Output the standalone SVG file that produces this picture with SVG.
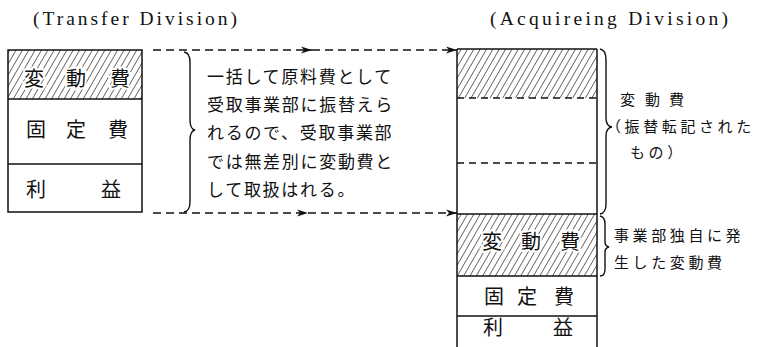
<svg xmlns="http://www.w3.org/2000/svg" width="765" height="347" viewBox="0 0 765 347">
<defs>
<style>
.box{fill:none;stroke:#111;stroke-width:1.5}
.ln{stroke:#111;stroke-width:1.5;fill:none}
.dl{stroke:#111;stroke-width:1.3;fill:none;stroke-dasharray:8 5}
.brace{stroke:#111;stroke-width:1.4;fill:none}
.title{font-family:"Liberation Serif",serif;font-size:19.5px;fill:#111}
.lab{font-family:"Noto Sans CJK JP",sans-serif;font-size:20px;fill:#111;text-anchor:middle}
.halo{stroke:#fff;stroke-width:4;paint-order:stroke}
.note{font-family:"Noto Sans CJK JP",sans-serif;font-size:17px;fill:#111;letter-spacing:1.7px}
.snote{font-family:"Noto Sans CJK JP",sans-serif;font-size:15px;fill:#111;letter-spacing:3.6px}
</style>
<pattern id="hatch" width="5.5" height="6" patternUnits="userSpaceOnUse" patternTransform="rotate(30)">
<line x1="0" y1="0" x2="0" y2="6" stroke="#111" stroke-width="1.2"/>
</pattern>
<marker id="arr" markerWidth="12" markerHeight="8" refX="11" refY="4" orient="auto" markerUnits="userSpaceOnUse">
<path d="M0,0.5 L11,4 L0,7.5 L3,4 Z" fill="#111"/>
</marker>
</defs>

<text class="title" x="33" y="25" textLength="204" lengthAdjust="spacing">(Transfer Division)</text>
<text class="title" x="490" y="25" textLength="238" lengthAdjust="spacing">(Acquireing Division)</text>

<g id="transfer-box">
<rect x="8" y="50" width="134" height="49" fill="url(#hatch)"/>
<rect class="box" x="8" y="50" width="134" height="162"/>
<line class="ln" x1="8" y1="99" x2="142" y2="99"/>
<line class="ln" x1="8" y1="164" x2="142" y2="164"/>
<text class="lab halo" y="86"><tspan x="34">変</tspan><tspan x="76">動</tspan><tspan x="120">費</tspan></text>
<text class="lab" y="137"><tspan x="36">固</tspan><tspan x="76">定</tspan><tspan x="118">費</tspan></text>
<text class="lab" y="197"><tspan x="36">利</tspan><tspan x="111">益</tspan></text>
</g>

<g id="transfer-note">
<path class="brace" d="M184,52 Q190,53 190,62 L190,120 Q190,129 195,130 Q190,131 190,140 L190,202 Q190,211 184,212"/>
<text class="note" x="207" y="82.5">一括して原料費として</text>
<text class="note" x="207" y="111">受取事業部に振替えら</text>
<text class="note" x="207" y="139">れるので、受取事業部</text>
<text class="note" x="207" y="168">では無差別に変動費と</text>
<text class="note" x="207" y="196">して取扱はれる。</text>
</g>

<g id="connectors">
<line class="dl" x1="153" y1="50" x2="312" y2="50" marker-end="url(#arr)"/>
<line class="dl" x1="312" y1="50" x2="457" y2="50" marker-end="url(#arr)"/>
<line class="dl" x1="153" y1="213" x2="308" y2="213" marker-end="url(#arr)"/>
<line class="dl" x1="308" y1="213" x2="457" y2="213" marker-end="url(#arr)"/>
</g>

<g id="acquiring-box">
<rect x="457" y="49" width="140" height="49" fill="url(#hatch)"/>
<rect x="457" y="214" width="140" height="62" fill="url(#hatch)"/>
<line class="ln" x1="457" y1="49" x2="457" y2="347"/>
<line class="ln" x1="597" y1="49" x2="597" y2="347"/>
<line class="ln" x1="457" y1="49" x2="597" y2="49"/>
<line class="dl" x1="457" y1="98" x2="597" y2="98" style="stroke-dasharray:7 5"/>
<line class="dl" x1="457" y1="163" x2="597" y2="163" style="stroke-dasharray:7 5"/>
<line class="ln" x1="457" y1="214" x2="597" y2="214"/>
<line class="ln" x1="457" y1="276" x2="597" y2="276"/>
<line class="ln" x1="457" y1="316" x2="597" y2="316"/>
<text class="lab halo" y="249"><tspan x="492">変</tspan><tspan x="531">動</tspan><tspan x="570">費</tspan></text>
<text class="lab" y="304"><tspan x="494">固</tspan><tspan x="527">定</tspan><tspan x="564">費</tspan></text>
<text class="lab" y="335"><tspan x="493">利</tspan><tspan x="563">益</tspan></text>
</g>

<g id="transferred-note">
<path class="brace" d="M600,49 Q606,50 606,60 L606,118 Q606,126 612,127 Q606,128 606,136 L606,204 Q606,213 600,214"/>
<text class="snote" y="105"><tspan x="620">変</tspan><tspan x="645">動</tspan><tspan x="669">費</tspan></text>
<text class="snote" x="606" y="132">（振替転記された</text>
<text class="snote" x="630" y="158">もの）</text>
</g>

<g id="own-note">
<path class="brace" d="M600,216 Q605,217 605,224 L605,242 Q605,246 609,247 Q605,248 605,252 L605,269 Q605,276 600,276"/>
<text class="snote" x="614" y="240.5">事業部独自に発</text>
<text class="snote" x="614" y="267.5">生した変動費</text>
</g>
</svg>
